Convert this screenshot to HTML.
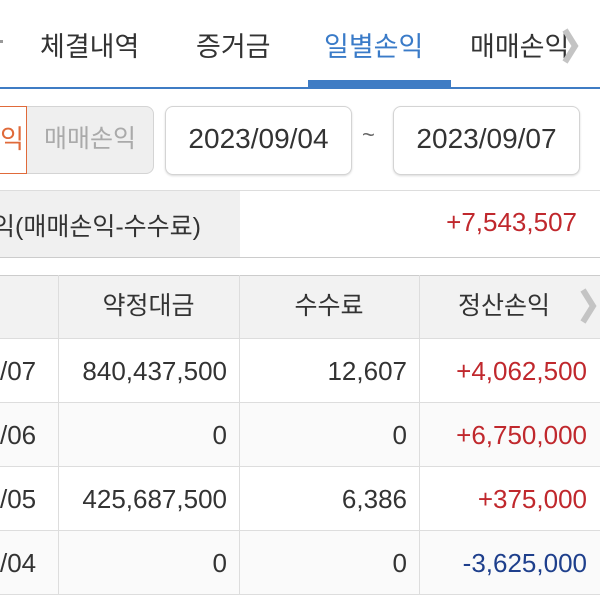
<!DOCTYPE html>
<html><head><meta charset="utf-8"><style>
body{margin:0;width:600px;height:600px;overflow:hidden;background:#fff;position:relative;font-family:"Liberation Sans","Noto Sans CJK KR",sans-serif;color:#333}
.a{position:absolute;white-space:nowrap}
.tab{font-size:27px;top:25px;color:#333}
.box{position:absolute;border:1.5px solid #d4d4d4;border-radius:8px;box-sizing:border-box;background:#fff;box-shadow:0 1px 2px rgba(0,0,0,.15);font-size:28px;text-align:center;line-height:64px;color:#333}
.cell{position:absolute;font-size:26px;text-align:right;line-height:64px}
.h{font-size:25px;position:absolute;text-align:center;line-height:62px;color:#333}
.vl{position:absolute;width:1px;background:#ddd;top:275px;height:319px}
.hl{position:absolute;left:0;width:600px;height:1px;background:#ddd}
.r{color:#c0282d}.b{color:#1e3f8c}
</style></head><body>
<div class="a" style="left:0;top:40px;width:3px;height:3px;background:#999"></div>
<div class="a tab" style="left:40px">체결내역</div>
<div class="a tab" style="left:196px">증거금</div>
<div class="a tab" style="left:324px;color:#3a7bc8">일별손익</div>
<div class="a tab" style="left:470px">매매손익</div>
<svg class="a" style="left:560px;top:26px" width="20" height="40"><polyline points="5,4 15,20 5,36" fill="none" stroke="#c4c4c4" stroke-width="6"/></svg>
<div class="a" style="left:0;top:87px;width:600px;height:2px;background:#3f7cc4"></div>
<div class="a" style="left:308px;top:80px;width:143px;height:9px;background:#3f7cc4"></div>

<div class="a" style="left:-5px;top:106px;width:32px;height:68px;border:1.5px solid #e06a3a;box-sizing:border-box;background:#fff;color:#e06a3a;font-size:26px;line-height:64px;text-align:right;padding-right:2px">익</div>
<div class="box" style="left:27px;top:106px;width:127px;height:68px;background:#efefef;color:#aaa;font-size:25px;box-shadow:none;border-left:none;border-radius:0 8px 8px 0">매매손익</div>
<div class="box" style="left:165px;top:106px;width:187px;height:69px">2023/09/04</div>
<div class="a" style="left:362px;top:122px;font-size:22px;color:#666">~</div>
<div class="box" style="left:393px;top:106px;width:187px;height:69px">2023/09/07</div>

<div class="hl" style="top:190px"></div>
<div class="a" style="left:0;top:191px;width:240px;height:66px;background:#f0f0f0"></div>
<div class="a" style="left:-8px;top:207px;font-size:25px;color:#333">익(매매손익-수수료)</div>
<div class="a r" style="right:23px;top:207px;font-size:26px">+7,543,507</div>
<div class="hl" style="top:257px;background:#ccc"></div>

<div class="a" style="left:0;top:275px;width:600px;height:63px;background:#f2f2f2"></div>
<div class="hl" style="top:275px;background:#ccc"></div>
<div class="hl" style="top:338px"></div>
<div class="a" style="left:0;top:403px;width:600px;height:63px;background:#fafafa"></div>
<div class="a" style="left:0;top:531px;width:600px;height:63px;background:#fafafa"></div>
<div class="hl" style="top:402px"></div>
<div class="hl" style="top:466px"></div>
<div class="hl" style="top:530px"></div>
<div class="hl" style="top:594px"></div>
<div class="vl" style="left:58px"></div>
<div class="vl" style="left:239px"></div>
<div class="vl" style="left:419px"></div>
<div class="h" style="left:58px;top:275px;width:181px">약정대금</div>
<div class="h" style="left:239px;top:275px;width:180px">수수료</div>
<div class="h" style="left:419px;top:275px;width:170px">정산손익</div>
<svg class="a" style="left:578px;top:286px" width="22" height="40"><polyline points="5,4 15,20 5,36" fill="none" stroke="#c4c4c4" stroke-width="6"/></svg>

<div class="cell" style="left:0;top:339px">/07</div>
<div class="cell" style="right:373px;top:339px">840,437,500</div>
<div class="cell" style="right:193px;top:339px">12,607</div>
<div class="cell r" style="right:13px;top:339px">+4,062,500</div>
<div class="cell" style="left:0;top:403px">/06</div>
<div class="cell" style="right:373px;top:403px">0</div>
<div class="cell" style="right:193px;top:403px">0</div>
<div class="cell r" style="right:13px;top:403px">+6,750,000</div>
<div class="cell" style="left:0;top:467px">/05</div>
<div class="cell" style="right:373px;top:467px">425,687,500</div>
<div class="cell" style="right:193px;top:467px">6,386</div>
<div class="cell r" style="right:13px;top:467px">+375,000</div>
<div class="cell" style="left:0;top:531px">/04</div>
<div class="cell" style="right:373px;top:531px">0</div>
<div class="cell" style="right:193px;top:531px">0</div>
<div class="cell b" style="right:13px;top:531px">-3,625,000</div>
</body></html>
